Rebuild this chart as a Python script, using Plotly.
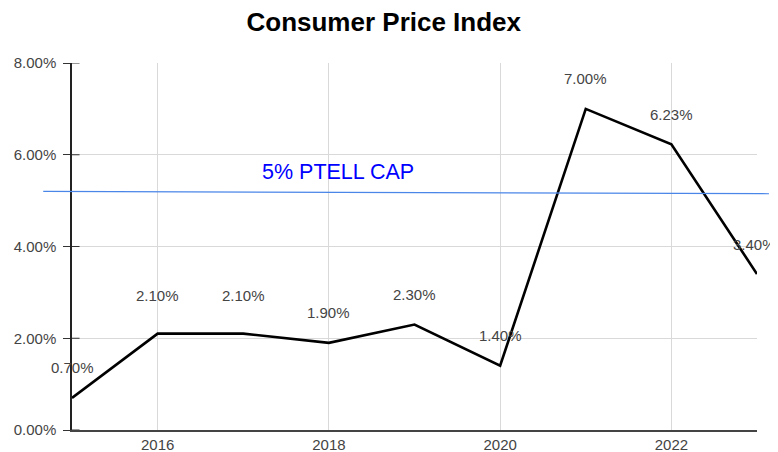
import plotly.graph_objects as go

years = [2015, 2016, 2017, 2018, 2019, 2020, 2021, 2022, 2023]
cpi = [0.70, 2.10, 2.10, 1.90, 2.30, 1.40, 7.00, 6.23, 3.40]
labels = ["0.70%", "2.10%", "2.10%", "1.90%", "2.30%", "1.40%", "7.00%", "6.23%", "3.40%"]
y_ticks = [0, 2, 4, 6, 8]
y_tick_text = ["0.00%", "2.00%", "4.00%", "6.00%", "8.00%"]
x_ticks = [2016, 2018, 2020, 2022]
cap_label = "5% PTELL CAP"
cap_start, cap_end = 5.20, 5.15

FONT = "Liberation Sans, Arial, sans-serif"

fig = go.Figure()
fig.add_trace(go.Scatter(
    x=years, y=cpi, mode="lines",
    line=dict(color="black", width=2.6),
    hoverinfo="skip", showlegend=False,
))

annotations = []
for i, (x, y, t) in enumerate(zip(years, cpi, labels)):
    annotations.append(dict(
        x=x, y=y, text=t, showarrow=False, xref="x", yref="y",
        yshift=38 if x in (2016, 2017) else 30,
        xshift=-3 if i == len(years) - 1 else 0,
        font=dict(family=FONT, size=15, color="#444444"),
    ))
annotations.append(dict(
    x=2018.11, y=5.62, text=cap_label, showarrow=False, xref="x", yref="y",
    font=dict(family=FONT, size=21.5, color="#0000ff"),
))

shapes = [dict(
    type="line", xref="paper", yref="y",
    x0=-0.042, x1=1.0175, y0=cap_start, y1=cap_end,
    line=dict(color="#4a86e8", width=1.2), layer="above",
)]
for v in y_ticks:
    shapes.append(dict(
        type="line", xref="paper", yref="y", x0=0, x1=0.011, y0=v, y1=v,
        line=dict(color="#333333", width=1),
    ))

fig.update_layout(
    width=770, height=444,
    margin=dict(l=64, r=21, t=55, b=22, autoexpand=False),
    paper_bgcolor="white", plot_bgcolor="white",
    title=dict(text="<b>Consumer Price Index</b>", x=0.488, xanchor="center",
               y=0.9685, yanchor="middle",
               font=dict(family=FONT, size=26, color="black")),
    annotations=annotations,
    shapes=shapes,
    xaxis=dict(
        range=[2015, 2023], tickvals=x_ticks, ticktext=[str(v) for v in x_ticks],
        showgrid=True, gridcolor="#d9d9d9", gridwidth=1,
        zeroline=False, showline=True, linecolor="#444444", linewidth=2,
        ticks="", ticklabelstandoff=0,
        tickfont=dict(family=FONT, size=15, color="#444444"),
        automargin=False, fixedrange=True,
    ),
    yaxis=dict(
        range=[0, 8], tickvals=y_ticks, ticktext=y_tick_text,
        showgrid=True, gridcolor="#d9d9d9", gridwidth=1,
        zeroline=False, showline=True, linecolor="#222222", linewidth=1.5,
        ticks="outside", ticklen=7, tickcolor="#333333", ticklabelstandoff=4,
        tickfont=dict(family=FONT, size=15, color="#444444"),
        automargin=False, fixedrange=True,
    ),
)

fig.write_html("out.html")
